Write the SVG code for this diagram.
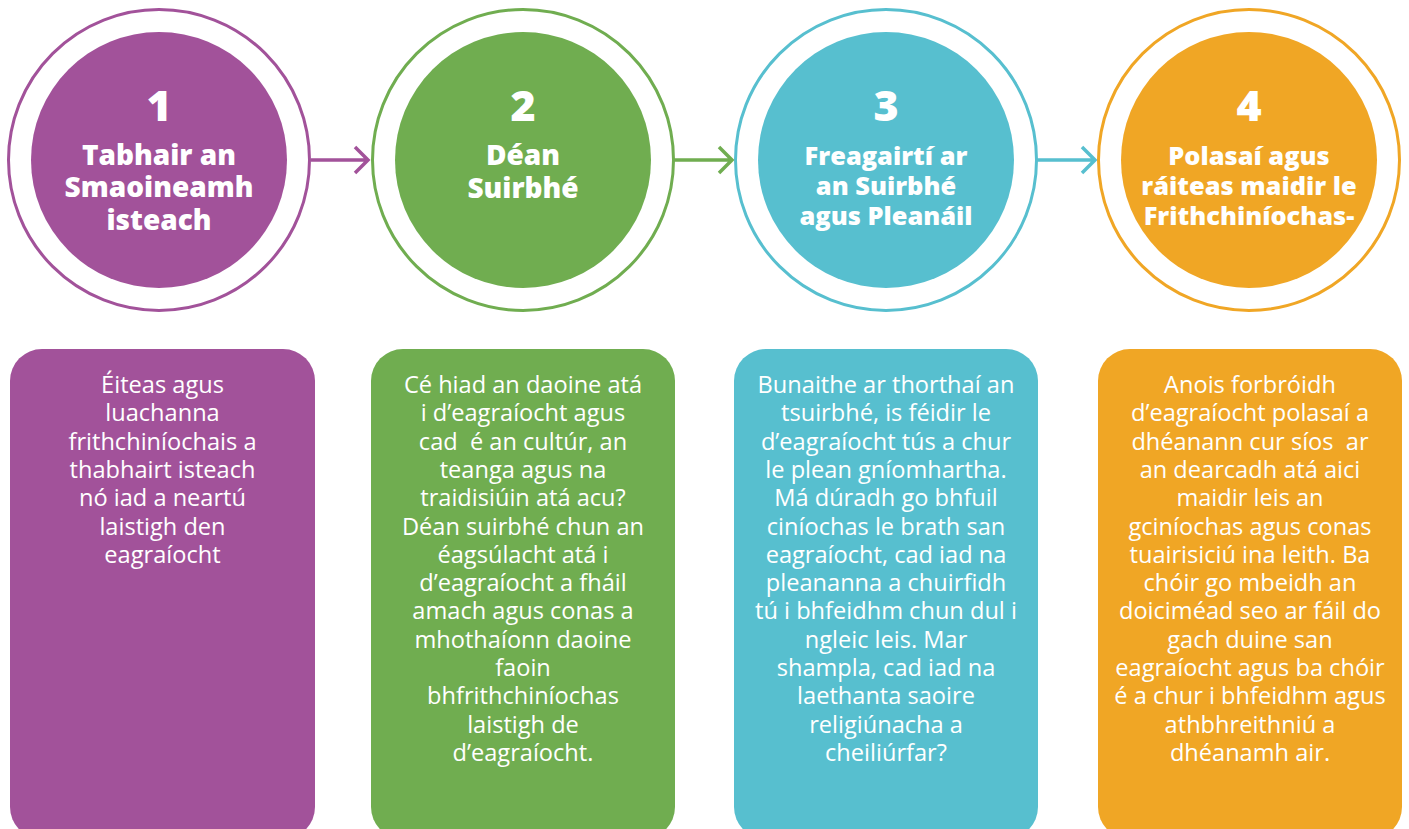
<svg xmlns="http://www.w3.org/2000/svg" width="1409" height="829" viewBox="0 0 1409 829">
<style>
.ring{fill:none;stroke-width:3}
.num{font-family:"Open Sans","Liberation Sans",sans-serif;font-weight:800;font-size:43px;fill:#fff;text-anchor:middle}
.ttl{font-family:"Open Sans","Liberation Sans",sans-serif;font-weight:800;font-size:28px;fill:#fff;text-anchor:middle}
.ttl2{font-family:"Open Sans","Liberation Sans",sans-serif;font-weight:800;font-size:25.4px;fill:#fff;text-anchor:middle}
.body{font-family:"Open Sans","Liberation Sans",sans-serif;font-size:23.6px;fill:#fff;text-anchor:middle}
.conn{fill:none;stroke-width:3.5}
.p{fill:#A2529A}.ps{stroke:#A2529A}
.g{fill:#70AD50}.gs{stroke:#70AD50}
.c{fill:#57BFCF}.cs{stroke:#57BFCF}
.o{fill:#F0A625}.os{stroke:#F0A625}
</style>
<rect width="1409" height="829" fill="#fff"/>
<g id="connectors">
<path class="conn ps" d="M311 160 H368 M355 147 L368 160 L355 173"/>
<path class="conn gs" d="M674 160 H732 M719 147 L732 160 L719 173"/>
<path class="conn cs" d="M1037 160 H1095 M1082 147 L1095 160 L1082 173"/>
</g>
<g id="step1">
<circle class="ring ps" cx="159" cy="160" r="150.5"/>
<circle class="p" cx="159" cy="160" r="128"/>
<text class="num" x="159" y="121">1</text>
<text class="ttl"><tspan x="159" y="165">Tabhair an</tspan><tspan x="159" y="197">Smaoineamh</tspan><tspan x="159" y="230">isteach</tspan></text>
</g>
<g id="step2">
<circle class="ring gs" cx="523" cy="160" r="150.5"/>
<circle class="g" cx="523" cy="160" r="128"/>
<text class="num" x="523" y="121">2</text>
<text class="ttl"><tspan x="523" y="165">Déan</tspan><tspan x="523" y="198">Suirbhé</tspan></text>
</g>
<g id="step3">
<circle class="ring cs" cx="886" cy="160" r="150.5"/>
<circle class="c" cx="886" cy="160" r="128"/>
<text class="num" x="886" y="121">3</text>
<text class="ttl2"><tspan x="886" y="165">Freagairtí ar</tspan><tspan x="886" y="195">an Suirbhé</tspan><tspan x="886" y="225">agus Pleanáil</tspan></text>
</g>
<g id="step4">
<circle class="ring os" cx="1249" cy="160" r="150.5"/>
<circle class="o" cx="1249" cy="160" r="128"/>
<text class="num" x="1249" y="121">4</text>
<text class="ttl2"><tspan x="1249" y="165">Polasaí agus</tspan><tspan x="1249" y="195">ráiteas maidir le</tspan><tspan x="1249" y="225">Frithchiníochas-</tspan></text>
</g>
<g id="box1">
<rect class="p" x="10" y="349" width="305" height="490" rx="32"/>
<text class="body"><tspan x="162.5" y="393">Éiteas agus</tspan><tspan x="162.5" y="421">luachanna</tspan><tspan x="162.5" y="450">frithchiníochais a</tspan><tspan x="162.5" y="478">thabhairt isteach</tspan><tspan x="162.5" y="506">nó iad a neartú</tspan><tspan x="162.5" y="535">laistigh den</tspan><tspan x="162.5" y="563">eagraíocht</tspan></text>
</g>
<g id="box2">
<rect class="g" x="371" y="349" width="304" height="490" rx="32"/>
<text class="body" xml:space="preserve"><tspan x="523" y="393">Cé hiad an daoine atá</tspan><tspan x="523" y="421">i d’eagraíocht agus</tspan><tspan x="523" y="450">cad  é an cultúr, an</tspan><tspan x="523" y="478">teanga agus na</tspan><tspan x="523" y="506">traidisiúin atá acu?</tspan><tspan x="523" y="535">Déan suirbhé chun an</tspan><tspan x="523" y="563">éagsúlacht atá i</tspan><tspan x="523" y="591">d’eagraíocht a fháil</tspan><tspan x="523" y="619">amach agus conas a</tspan><tspan x="523" y="648">mhothaíonn daoine</tspan><tspan x="523" y="676">faoin</tspan><tspan x="523" y="704">bhfrithchiníochas</tspan><tspan x="523" y="733">laistigh de</tspan><tspan x="523" y="761">d’eagraíocht.</tspan></text>
</g>
<g id="box3">
<rect class="c" x="734" y="349" width="304" height="490" rx="32"/>
<text class="body"><tspan x="886" y="393">Bunaithe ar thorthaí an</tspan><tspan x="886" y="421">tsuirbhé, is féidir le</tspan><tspan x="886" y="450">d’eagraíocht tús a chur</tspan><tspan x="886" y="478">le plean gníomhartha.</tspan><tspan x="886" y="506">Má dúradh go bhfuil</tspan><tspan x="886" y="535">ciníochas le brath san</tspan><tspan x="886" y="563">eagraíocht, cad iad na</tspan><tspan x="886" y="591">pleananna a chuirfidh</tspan><tspan x="886" y="619">tú i bhfeidhm chun dul i</tspan><tspan x="886" y="648">ngleic leis. Mar</tspan><tspan x="886" y="676">shampla, cad iad na</tspan><tspan x="886" y="704">laethanta saoire</tspan><tspan x="886" y="733">religiúnacha a</tspan><tspan x="886" y="761">cheiliúrfar?</tspan></text>
</g>
<g id="box4">
<rect class="o" x="1098" y="349" width="304" height="490" rx="32"/>
<text class="body" xml:space="preserve"><tspan x="1250" y="393">Anois forbróidh</tspan><tspan x="1250" y="421">d’eagraíocht polasaí a</tspan><tspan x="1250" y="450">dhéanann cur síos  ar</tspan><tspan x="1250" y="478">an dearcadh atá aici</tspan><tspan x="1250" y="506">maidir leis an</tspan><tspan x="1250" y="535">gciníochas agus conas</tspan><tspan x="1250" y="563">tuairisiciú ina leith. Ba</tspan><tspan x="1250" y="591">chóir go mbeidh an</tspan><tspan x="1250" y="619">doiciméad seo ar fáil do</tspan><tspan x="1250" y="648">gach duine san</tspan><tspan x="1250" y="676">eagraíocht agus ba chóir</tspan><tspan x="1250" y="704">é a chur i bhfeidhm agus</tspan><tspan x="1250" y="733">athbhreithniú a</tspan><tspan x="1250" y="761">dhéanamh air.</tspan></text>
</g>
</svg>
